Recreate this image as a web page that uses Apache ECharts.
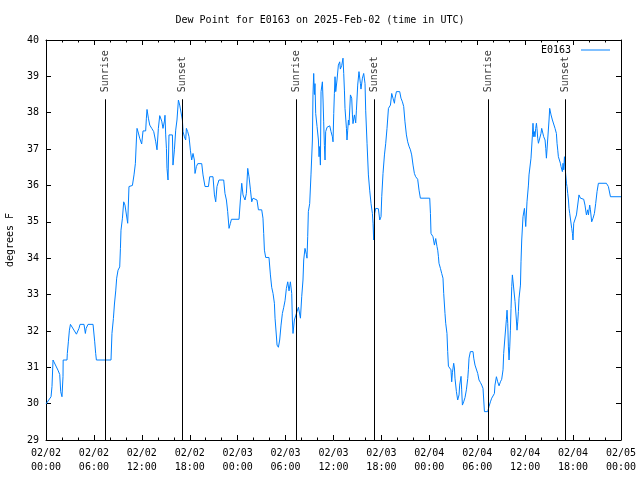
<!DOCTYPE html>
<html><head><meta charset="utf-8">
<script src="https://cdn.jsdelivr.net/npm/echarts@6/dist/echarts.min.js"></script>
<style>html,body{margin:0;padding:0;background:#fff}#c{width:640px;height:480px}</style>
</head><body><div id="c"></div>
<script>
// hours since 2025-02-02 00:00 UTC
const hours = [0.00,0.63,0.75,0.88,1.50,1.72,1.84,2.00,2.13,2.15,2.63,2.67,2.80,2.93,3.06,3.81,4.13,4.26,4.76,4.93,5.03,5.26,5.89,6.10,6.22,6.31,8.14,8.26,8.44,8.57,8.73,8.85,9.02,9.23,9.32,9.39,9.57,9.73,9.89,10.07,10.23,10.39,10.82,11.02,11.19,11.32,11.40,11.57,11.73,11.98,12.15,12.48,12.57,12.65,12.82,12.99,13.24,13.49,13.74,13.90,14.07,14.24,14.49,14.65,14.83,14.90,14.99,15.08,15.15,15.28,15.40,15.83,15.90,16.08,16.24,16.40,16.58,16.74,16.90,17.08,17.16,17.33,17.49,17.58,17.74,17.91,18.08,18.24,18.41,18.58,18.66,18.83,19.00,19.50,19.66,19.91,20.34,20.50,20.91,21.09,21.25,21.41,21.66,22.25,22.41,22.59,22.75,22.92,23.09,23.22,24.17,24.34,24.51,24.67,24.92,25.09,25.26,25.42,25.60,25.76,25.92,26.42,26.60,27.01,27.17,27.26,27.35,27.51,27.92,28.10,28.26,28.43,28.60,28.68,28.85,28.93,29.10,29.26,29.43,29.60,29.77,29.93,30.10,30.27,30.43,30.60,30.77,30.85,30.93,31.10,31.27,31.43,31.61,31.68,31.86,32.02,32.18,32.27,32.43,32.61,32.68,32.77,32.85,33.02,33.18,33.36,33.43,33.52,33.61,33.68,33.77,33.94,34.11,34.19,34.27,34.36,34.44,34.61,34.69,34.77,34.86,34.94,35.02,35.19,35.36,35.53,35.69,35.86,35.94,36.03,36.11,36.19,36.28,36.44,36.61,36.78,36.86,37.03,37.19,37.28,37.37,37.44,37.62,37.69,37.78,37.87,37.94,38.12,38.28,38.37,38.44,38.62,38.78,38.87,39.03,39.19,39.37,39.44,39.62,39.78,39.87,39.95,40.03,40.20,40.37,40.53,40.70,40.87,40.95,41.03,41.16,41.28,41.62,41.79,41.95,42.04,42.20,42.38,42.54,42.70,42.88,43.13,43.29,43.45,43.63,43.70,43.88,44.29,44.45,44.63,44.79,44.95,45.13,45.29,45.45,45.63,45.79,45.96,46.13,46.29,46.54,46.71,46.88,48.05,48.14,48.21,48.30,48.46,48.64,48.80,48.96,49.05,49.14,49.21,49.39,49.55,49.71,49.80,49.96,50.05,50.21,50.30,50.39,50.55,50.71,50.80,50.89,51.05,51.14,51.21,51.39,51.55,51.72,51.80,51.97,52.05,52.14,52.30,52.47,52.64,52.81,52.89,52.97,53.14,53.47,53.56,53.72,53.97,54.06,54.22,54.40,54.56,54.72,54.81,54.90,55.31,55.47,55.65,55.81,55.97,56.15,56.22,56.40,56.56,56.73,56.90,57.06,57.23,57.31,57.48,57.65,57.73,57.82,57.90,57.98,58.07,58.15,58.23,58.32,58.40,58.57,58.73,58.90,58.98,59.07,59.15,59.23,59.41,59.48,59.57,59.73,59.91,60.07,60.23,60.41,60.48,60.66,60.73,60.91,60.98,61.07,61.16,61.23,61.32,61.41,61.48,61.57,61.66,61.82,61.91,61.98,62.07,62.16,62.24,62.32,62.49,62.58,62.66,62.91,62.99,63.07,63.16,63.24,63.41,63.58,63.74,63.91,63.99,64.08,64.16,64.33,64.41,64.49,64.66,64.74,64.83,64.92,64.99,65.08,65.17,65.24,65.33,65.42,65.49,65.58,65.74,65.83,65.92,65.99,66.08,66.33,66.42,66.58,66.74,66.92,67.17,67.33,67.49,67.67,67.83,67.92,68.08,68.17,68.33,68.50,68.67,68.83,69.00,69.17,70.17,70.42,70.68,72.00];
const dewF = [29.99,30.19,30.47,31.2,30.92,30.8,30.33,30.19,30.74,31.2,31.2,31.38,31.7,32.02,32.18,31.91,32.07,32.18,32.18,31.93,32.07,32.18,32.18,31.7,31.38,31.2,31.2,31.93,32.34,32.74,33.1,33.45,33.67,33.76,34.27,34.77,35.1,35.55,35.46,35.5,34.96,35.97,36.0,36.29,36.6,37.25,37.57,37.44,37.3,37.14,37.5,37.5,37.85,38.09,37.85,37.66,37.57,37.48,37.2,36.98,37.57,37.92,37.77,37.57,37.77,37.93,37.39,37.02,36.47,36.15,37.39,37.39,36.56,36.98,37.52,37.8,38.35,38.21,38.17,37.8,37.48,37.34,37.25,37.57,37.48,37.34,36.97,36.7,36.88,36.7,36.33,36.52,36.6,36.6,36.29,35.97,35.97,36.24,36.24,35.74,35.55,35.97,36.15,36.15,35.78,35.6,35.28,34.82,34.96,35.07,35.07,35.6,36.06,35.74,35.6,35.78,36.47,36.24,35.88,35.55,35.65,35.6,35.33,35.33,35.1,34.68,34.22,34.02,34.02,33.54,33.2,33.03,32.76,32.35,31.86,31.61,31.55,31.75,32.16,32.48,32.65,32.83,33.17,33.35,33.1,33.35,33.03,32.3,31.93,32.3,32.35,32.53,32.65,32.6,32.35,32.94,33.4,33.95,34.27,34.1,34.0,34.59,35.28,35.5,36.29,37.25,38.49,39.08,38.5,38.8,37.98,37.62,37.25,36.79,37.07,36.56,38.58,38.85,38.35,37.75,37.1,36.7,37.48,37.6,37.64,37.64,37.48,37.34,37.2,37.98,38.53,38.99,38.58,38.9,39.31,39.4,39.2,39.3,39.5,39.08,38.6,38.12,37.57,37.25,37.52,37.8,37.66,38.49,38.4,37.94,37.7,37.94,37.72,38.07,38.76,39.13,38.8,38.65,38.95,39.08,39.13,38.8,38.07,37.16,36.29,35.87,35.5,35.23,34.96,34.5,35.23,35.37,35.36,35.05,35.14,35.69,36.33,36.84,37.16,37.57,38.12,38.21,38.53,38.4,38.26,38.4,38.58,38.58,38.4,38.3,38.17,37.75,37.39,37.2,37.08,36.98,36.84,36.56,36.33,36.24,36.17,35.87,35.65,35.65,35.23,34.68,34.64,34.59,34.36,34.54,34.32,34.22,34.04,33.86,33.72,33.58,33.45,33.03,32.48,32.21,31.93,31.43,31.03,31.07,30.93,30.6,30.85,31.11,30.98,30.7,30.33,30.1,30.24,30.51,30.75,30.38,29.96,30.05,30.17,30.38,30.69,30.93,31.25,31.43,31.43,31.25,31.06,31.04,30.83,30.65,30.58,30.51,30.42,30.1,29.78,29.78,29.92,30.05,30.15,30.21,30.28,30.51,30.74,30.6,30.49,30.6,30.67,30.93,31.38,31.86,32.32,32.57,32.2,31.56,31.2,31.56,32.02,32.62,33.22,33.54,33.56,32.81,32.3,32.02,32.25,32.53,32.9,33.26,33.9,34.5,35.14,35.37,34.87,35.55,36.01,36.29,36.24,36.75,37.39,37.71,37.34,37.48,37.34,37.57,37.71,37.57,37.3,37.16,37.2,37.11,37.43,37.57,37.6,37.52,37.34,37.25,37.02,36.75,36.75,37.8,38.12,38.07,37.94,37.8,37.75,37.57,37.43,37.16,36.97,36.79,36.75,36.61,36.52,36.38,36.61,36.43,36.79,36.52,36.29,36.06,35.97,35.78,35.6,35.37,35.23,35.19,34.82,34.68,34.5,34.96,34.96,35.19,35.23,35.74,35.65,35.65,35.62,35.46,35.19,35.33,35.19,35.46,35.33,35.0,35.1,35.23,35.5,35.83,36.06,36.06,35.97,35.69,35.69];
const xTickLabels = ["02/02\n00:00","02/02\n06:00","02/02\n12:00","02/02\n18:00","02/03\n00:00","02/03\n06:00","02/03\n12:00","02/03\n18:00","02/04\n00:00","02/04\n06:00","02/04\n12:00","02/04\n18:00","02/05\n00:00"];
const sunHours = [7.39, 17.03, 31.37, 41.08, 55.39, 64.99];
const sunNames = ["Sunrise","Sunset","Sunrise","Sunset","Sunrise","Sunset"];
const seriesName = "E0163";
const titleText = "Dew Point for E0163 on 2025-Feb-02 (time in UTC)";
const yName = "degrees F";

const FONT = "DejaVu Sans Mono";
const lineData = hours.map((h, i) => [h, dewF[i]]);
const sunLineTop = 38.37, sunLabelAt = 38.56;

const chart = echarts.init(document.getElementById('c'), null, {renderer: 'canvas'});
const tickCommon = {inside: true, length: 5, lineStyle: {color: '#000'}};
chart.setOption({
  animation: false,
  backgroundColor: '#fff',
  title: {text: titleText, left: 'center', top: 10, itemGap: 0,
    textStyle: {fontFamily: FONT, fontSize: 10, fontWeight: 'normal', color: '#000'}},
  grid: {left: 46, right: 19, top: 40, bottom: 40, containLabel: false, outerBoundsMode: 'none'},
  legend: {data: [{name: seriesName, icon: 'rect'}], right: 30, top: 45, padding: 0, align: 'right', itemWidth: 29, itemHeight: 1, itemGap: 0,
    itemStyle: {color: '#0080ff', borderWidth: 0},
    textStyle: {fontFamily: FONT, fontSize: 10, color: '#000', padding: [0, 5, 0, 0]}},
  xAxis: [{
    type: 'value', min: 0, max: 72, interval: 6, position: 'bottom',
    axisLine: {show: true, onZero: false, lineStyle: {color: '#000', width: 1}},
    axisTick: tickCommon,
    minorTick: {show: true, splitNumber: 3, length: 2.5, lineStyle: {color: '#000'}},
    splitLine: {show: false},
    axisLabel: {margin: 6, fontFamily: FONT, fontSize: 10, color: '#000', lineHeight: 14,
      formatter: v => xTickLabels[Math.round(v / 6)] || ''}
  }, {
    type: 'value', min: 0, max: 72, interval: 6, position: 'top',
    axisLine: {show: true, onZero: false, lineStyle: {color: '#000', width: 1}},
    axisTick: tickCommon,
    minorTick: {show: true, splitNumber: 3, length: 2.5, lineStyle: {color: '#000'}},
    splitLine: {show: false}, axisLabel: {show: false}
  }],
  yAxis: [{
    type: 'value', min: 29, max: 40, interval: 1, position: 'left',
    name: yName, nameLocation: 'middle', nameGap: 31, nameRotate: 90,
    nameTextStyle: {fontFamily: FONT, fontSize: 10, color: '#000'},
    axisLine: {show: true, onZero: false, lineStyle: {color: '#000', width: 1}},
    axisTick: tickCommon,
    splitLine: {show: false},
    axisLabel: {margin: 7, fontFamily: FONT, fontSize: 10, color: '#000'}
  }, {
    type: 'value', min: 29, max: 40, interval: 1, position: 'right',
    axisLine: {show: true, onZero: false, lineStyle: {color: '#000', width: 1}},
    axisTick: tickCommon,
    splitLine: {show: false}, axisLabel: {show: false}
  }],
  series: [{
    name: seriesName, type: 'line', data: lineData, showSymbol: false, symbol: 'none',
    lineStyle: {color: '#0080ff', width: 1}, itemStyle: {color: '#0080ff'},
    clip: true, z: 3
  }, {
    name: 'sun', type: 'scatter', symbolSize: 1, itemStyle: {color: 'rgba(0,0,0,0)'},
    data: sunHours.map((h, i) => ({name: sunNames[i], value: [h, sunLabelAt]})),
    label: {show: true, position: 'inside', formatter: p => p.name, rotate: 90,
      align: 'left', verticalAlign: 'middle', fontFamily: FONT, fontSize: 10, color: '#000'},
    labelLayout: {hideOverlap: false},
    markLine: {silent: true, symbol: ['none', 'none'], label: {show: false},
      lineStyle: {color: '#000', width: 1, type: 'solid'},
      data: sunHours.map(h => [{coord: [h, 29]}, {coord: [h, sunLineTop]}])},
    z: 4
  }]
});
</script>
</body></html>
